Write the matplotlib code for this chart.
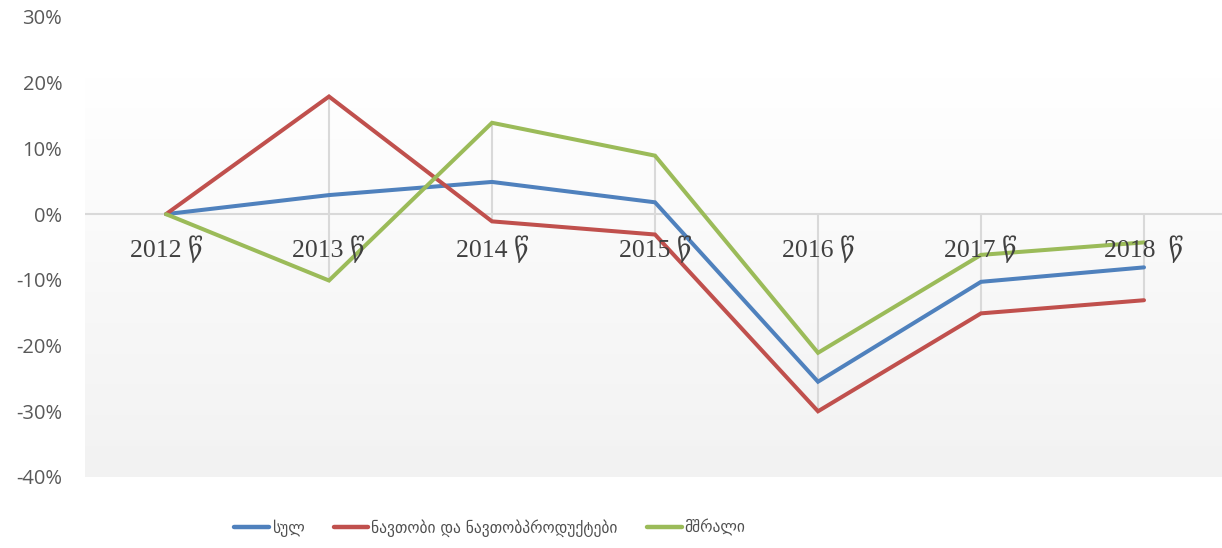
import numpy as np
import matplotlib
matplotlib.use("Agg")
import matplotlib.pyplot as plt
from matplotlib.ticker import FuncFormatter
from matplotlib.colors import LinearSegmentedColormap

plt.rcParams['font.family'] = ['DejaVu Sans']
plt.rcParams['axes.unicode_minus'] = False

# 数据
years = ["2012 წ", "2013 წ", "2014 წ", "2015 წ", "2016 წ", "2017 წ", "2018  წ"]
total = [0.0, 2.9, 4.9, 1.8, -25.5, -10.3, -8.1]
oil = [0.0, 17.9, -1.1, -3.1, -30.0, -15.1, -13.1]
dry = [0.0, -10.1, 13.9, 8.9, -21.1, -6.2, -4.3]
labels = ["სულ", "ნავთობი და ნავთობპროდუქტები", "მშრალი"]
colors = ["#4F81BD", "#C0504D", "#9BBB59"]
series = [total, oil, dry]

fig = plt.figure(figsize=(12.22, 5.48), dpi=100)
ax = fig.add_axes([84.5 / 1222, 1 - 477 / 548, 1141 / 1222, 460 / 548])

x = np.arange(len(years))

# 背景渐变
cmap = LinearSegmentedColormap.from_list("bg", ["#f2f2f2", "#ffffff"])
grad = np.linspace(0, 1, 256).reshape(-1, 1)
ax.imshow(grad, extent=(-0.5, 6.5, -40, 20.8), origin="lower", cmap=cmap,
          aspect="auto", zorder=0)

# 高低线
arr = np.array(series)
lo = np.minimum(arr.min(axis=0), 0)
hi = np.maximum(arr.max(axis=0), 0)
ax.vlines(x, lo, hi, color="#d9d9d9", lw=1.5, zorder=1)
ax.axhline(0, color="#d9d9d9", lw=1.5, zorder=1)

for s, lab, c in zip(series, labels, colors):
    ax.plot(x, s, color=c, lw=2.9, label=lab, solid_capstyle="round",
            solid_joinstyle="miter", zorder=3)

# 类别标签
for xi, t in zip(x, years):
    ax.text(xi, -3.2, t, ha="center", va="top", fontsize=18.5,
            family=["Liberation Serif", "DejaVu Serif", "DejaVu Sans"],
            color="#404040", zorder=4)

ax.set_xlim(-0.5, 6.5)
ax.set_ylim(-40, 30)
ax.set_yticks(np.arange(-40, 31, 10))
ax.yaxis.set_major_formatter(FuncFormatter(lambda v, p: f"{v:.0f}%"))
ax.tick_params(axis="y", length=0, pad=16, labelsize=14.5, labelcolor="#595959")
for t in ax.get_yticklabels():
    t.set_family(["Open Sans", "DejaVu Sans"])
ax.set_xticks([])
for sp in ax.spines.values():
    sp.set_visible(False)

leg = fig.legend(loc="center", bbox_to_anchor=(490 / 1222, 1 - 528 / 548), ncol=3,
                 frameon=False, fontsize=11.2, handlelength=2.2, handletextpad=0.2,
                 columnspacing=1.9, labelcolor="#505050")
for h in leg.get_lines():
    h.set_linewidth(3.2)
    h.set_solid_capstyle("round")

fig.savefig("out.png", dpi=100)
